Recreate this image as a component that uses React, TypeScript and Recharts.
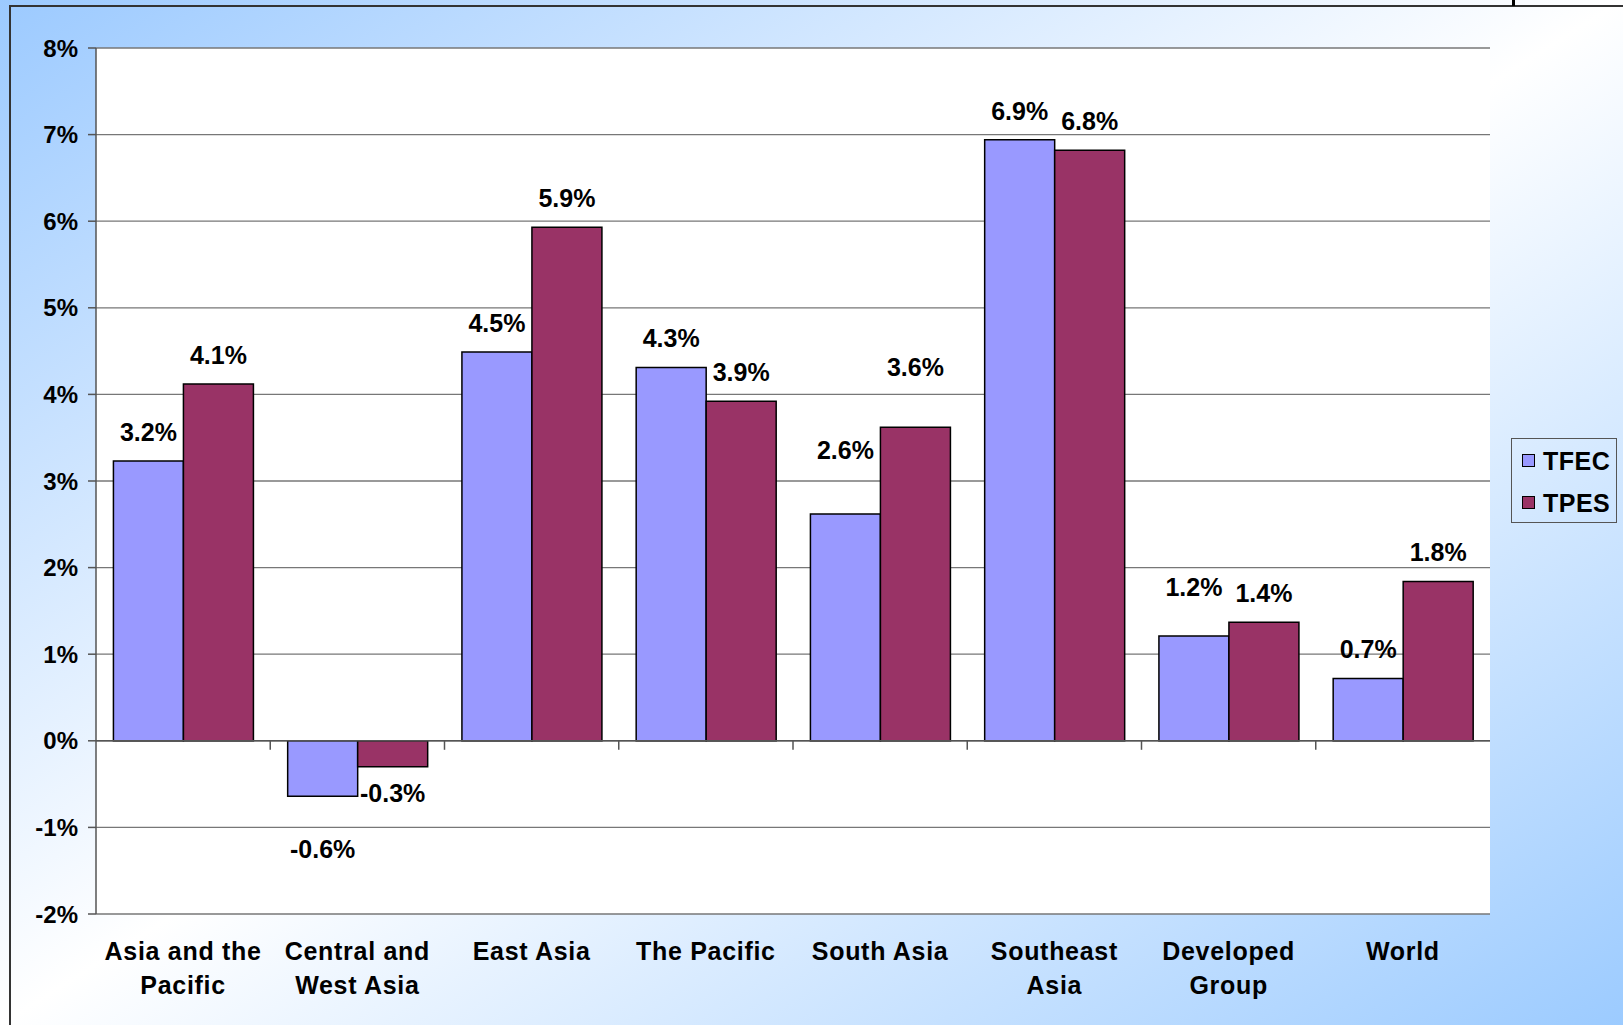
import React from 'react';
import { BarChart, Bar, XAxis, YAxis, CartesianGrid, ReferenceLine, LabelList, Legend } from 'recharts';

const categories = [
  'Asia and the\nPacific',
  'Central and\nWest Asia',
  'East Asia',
  'The Pacific',
  'South Asia',
  'Southeast\nAsia',
  'Developed\nGroup',
  'World',
];
const tfecValues = [3.23, -0.64, 4.49, 4.31, 2.62, 6.94, 1.21, 0.72];
const tpesValues = [4.12, -0.3, 5.93, 3.92, 3.62, 6.82, 1.37, 1.84];
const yTicks = [-2, -1, 0, 1, 2, 3, 4, 5, 6, 7, 8];
const seriesNames = ['TFEC', 'TPES'];
const seriesColors = ['#9999ff', '#993366'];

const data = categories.map((c, i) => ({ category: c, TFEC: tfecValues[i], TPES: tpesValues[i] }));

const FONT = '"Liberation Sans", Arial, Helvetica, sans-serif';

// label distance (center of text) from bar end, in px; a few labels sit further away in the original
const DEFAULT_LIFT = 29;
const labelLift: Record<string, number> = {
  'TFEC-4': 64,
  'TPES-4': 60,
  'TFEC-6': 49,
  'TFEC-1': 53,
  'TPES-1': 26,
};

const makeLabel = (series: string) => (props: any) => {
  const { x, y, width, height, value, index } = props;
  const v = Number(value);
  const top = Math.min(Number(y), Number(y) + Number(height));
  const bottom = Math.max(Number(y), Number(y) + Number(height));
  const lift = labelLift[`${series}-${index}`] ?? DEFAULT_LIFT;
  const cy = v >= 0 ? top - lift : bottom + lift;
  return (
    <text
      x={Number(x) + Number(width) / 2}
      y={cy}
      dy="0.355em"
      textAnchor="middle"
      fontFamily={FONT}
      fontWeight={700}
      fontSize={25}
      fill="#000"
    >
      {v.toFixed(1)}%
    </text>
  );
};

const CategoryTick = (props: any) => {
  const { x, y, payload } = props;
  const lines = String(payload.value).split('\n');
  return (
    <text
      x={x}
      y={y + 46}
      textAnchor="middle"
      fontFamily={FONT}
      fontWeight={700}
      fontSize={25}
      letterSpacing={0.7}
      fill="#000"
    >
      {lines.map((l, i) => (
        <tspan key={i} x={x} dy={i === 0 ? 0 : 34}>
          {l}
        </tspan>
      ))}
    </text>
  );
};

const ZeroAxis = (props: any) => {
  const { x1, y1, x2, y2 } = props;
  const n = categories.length;
  const step = (Number(x2) - Number(x1)) / n;
  const ticks = [];
  for (let k = 1; k < n; k++) {
    const xx = Number(x1) + k * step;
    ticks.push(<line key={k} x1={xx} x2={xx} y1={y1} y2={Number(y1) + 9} stroke="#555" strokeWidth={1.5} />);
  }
  return (
    <g>
      <line x1={x1} y1={y1} x2={x2} y2={y2} stroke="#555" strokeWidth={1.5} />
      {ticks}
    </g>
  );
};

const LegendBox = () => (
  <div
    style={{
      position: 'relative',
      width: 106,
      height: 85,
      border: '1px solid #555',
      boxSizing: 'border-box',
      fontFamily: FONT,
      fontWeight: 700,
      fontSize: 25,
      letterSpacing: 0.5,
      color: '#000',
    }}
  >
    {seriesNames.map((name, i) => (
      <div key={name} style={{ position: 'absolute', left: 0, top: i === 0 ? 8 : 50, height: 28, width: 106 }}>
        <div
          style={{
            position: 'absolute',
            left: 10,
            top: 7,
            width: 13,
            height: 13,
            boxSizing: 'border-box',
            border: '1.5px solid #000',
            background: seriesColors[i],
          }}
        />
        <div style={{ position: 'absolute', left: 31, top: 0, lineHeight: '28px' }}>{name}</div>
      </div>
    ))}
  </div>
);

export default function App() {
  return (
    <div
      style={{
        position: 'fixed',
        left: 0,
        top: 0,
        width: 1623,
        height: 1025,
        overflow: 'hidden',
        background: 'linear-gradient(to bottom right, #9ccaff 0%, #ffffff 50%, #9ccbff 100%)',
      }}
    >
      <div style={{ position: 'absolute', left: 10, top: 5, width: 1613, height: 2, background: '#333' }} />
      <div style={{ position: 'absolute', left: 9, top: 5, width: 2, height: 1020, background: '#333' }} />
      <div style={{ position: 'absolute', left: 1512, top: 0, width: 3, height: 6, background: '#000' }} />
      <div style={{ position: 'absolute', left: 0, top: 0 }}>
        <BarChart
          width={1623}
          height={1025}
          data={data}
          margin={{ top: 48, right: 133, bottom: 0, left: 0 }}
          barCategoryGap="10%"
          barGap={0}
        >
          <CartesianGrid vertical={false} stroke="#777" strokeWidth={1.3} fill="#ffffff" fillOpacity={1} />
          <XAxis
            dataKey="category"
            height={111}
            axisLine={false}
            tickLine={false}
            tickSize={0}
            tickMargin={0}
            interval={0}
            tick={<CategoryTick />}
          />
          <YAxis
            domain={[-2, 8]}
            ticks={yTicks}
            interval={0}
            width={96}
            tickFormatter={(v: number) => `${v}%`}
            tick={{ fontFamily: FONT, fontWeight: 700, fontSize: 24, fill: '#000' }}
            tickSize={8}
            tickMargin={10}
            tickLine={{ stroke: '#555', strokeWidth: 1.5 }}
            axisLine={{ stroke: '#555', strokeWidth: 1.5 }}
            allowDataOverflow
          />
          <YAxis
            yAxisId="r"
            orientation="right"
            domain={[-2, 8]}
            width={0}
            tick={false}
            tickLine={false}
            axisLine={{ stroke: '#888', strokeWidth: 2 }}
          />
          <Legend
            layout="vertical"
            align="center"
            verticalAlign="middle"
            wrapperStyle={{ left: 1511, top: 438, width: 106, height: 85 }}
            content={() => <LegendBox />}
          />
          <Bar dataKey="TFEC" name="TFEC" fill={seriesColors[0]} stroke="#000" strokeWidth={1.5} isAnimationActive={false}>
            <LabelList dataKey="TFEC" content={makeLabel('TFEC')} />
          </Bar>
          <Bar dataKey="TPES" name="TPES" fill={seriesColors[1]} stroke="#000" strokeWidth={1.5} isAnimationActive={false}>
            <LabelList dataKey="TPES" content={makeLabel('TPES')} />
          </Bar>
          <ReferenceLine y={0} shape={<ZeroAxis />} ifOverflow="extendDomain" />
        </BarChart>
      </div>
    </div>
  );
}
